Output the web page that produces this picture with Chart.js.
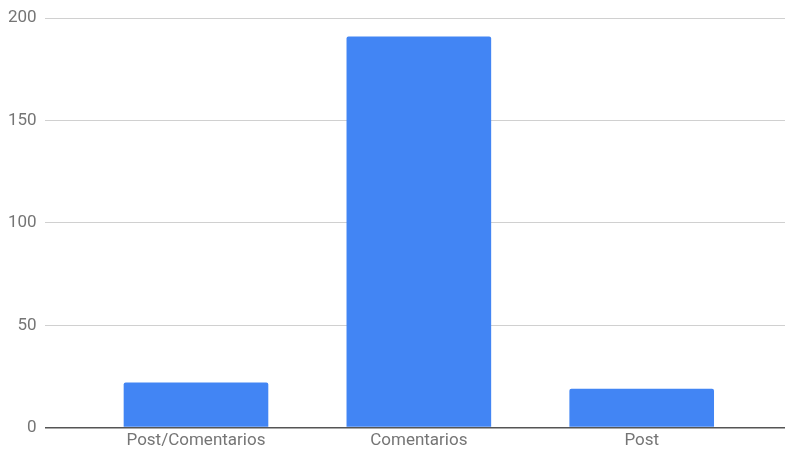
<!DOCTYPE html>
<html>
<head>
<meta charset="utf-8">
<script src="https://cdn.jsdelivr.net/npm/chart.js@4.4.1/dist/chart.umd.min.js"></script>
<style>
  html, body { margin: 0; padding: 0; background: #fff; }
  #wrap { width: 785px; height: 454px; }
</style>
</head>
<body>
<div id="wrap"><canvas id="chart" width="785" height="454"></canvas></div>
<script>
// categorias y valores
const categories = ["Post/Comentarios", "Comentarios", "Post"];
const values = [22, 191, 19];
const yTicks = [0, 50, 100, 150, 200];

const points = categories.map((c, i) => ({ x: i + 1, y: values[i] }));

const config = {
  type: "bar",
  data: {
    datasets: [
      {
        label: "Total",
        data: points,
        backgroundColor: "#4285F4",
        borderRadius: { topLeft: 2, topRight: 2 },
        borderSkipped: "bottom",
        categoryPercentage: 1,
        barPercentage: 0.649,
      },
    ],
  },
  options: {
    responsive: false,
    animation: false,
    layout: { padding: { top: 5, left: 0, right: 0, bottom: 0 } },
    plugins: {
      legend: { display: false },
      tooltip: { enabled: false },
    },
    scales: {
      x: {
        type: "linear",
        offset: false,
        min: 0.321,
        max: 3.643,
        grid: { display: false, drawTicks: false },
        border: { display: false },
        afterBuildTicks: (scale) => {
          scale.ticks = categories.map((c, i) => ({ value: i + 1 }));
        },
        ticks: {
          autoSkip: false,
          maxRotation: 0,
          padding: 3,
          color: "#757575",
          font: { family: "Roboto", size: 17 },
          callback: (v) => categories[v - 1],
        },
      },
      y: {
        min: 0,
        max: 200,
        afterBuildTicks: (scale) => {
          scale.ticks = yTicks.map((v) => ({ value: v }));
        },
        grid: {
          drawTicks: false,
          color: (ctx) => (ctx.tick && ctx.tick.value === 0 ? "#555555" : "#d0d0d0"),
          lineWidth: (ctx) => (ctx.tick && ctx.tick.value === 0 ? 1.5 : 1),
        },
        border: { display: false },
        ticks: {
          padding: 8,
          color: "#757575",
          font: { family: "Roboto", size: 17 },
        },
      },
    },
  },
};

const chart = new Chart("chart", config);
</script>
</body>
</html>
